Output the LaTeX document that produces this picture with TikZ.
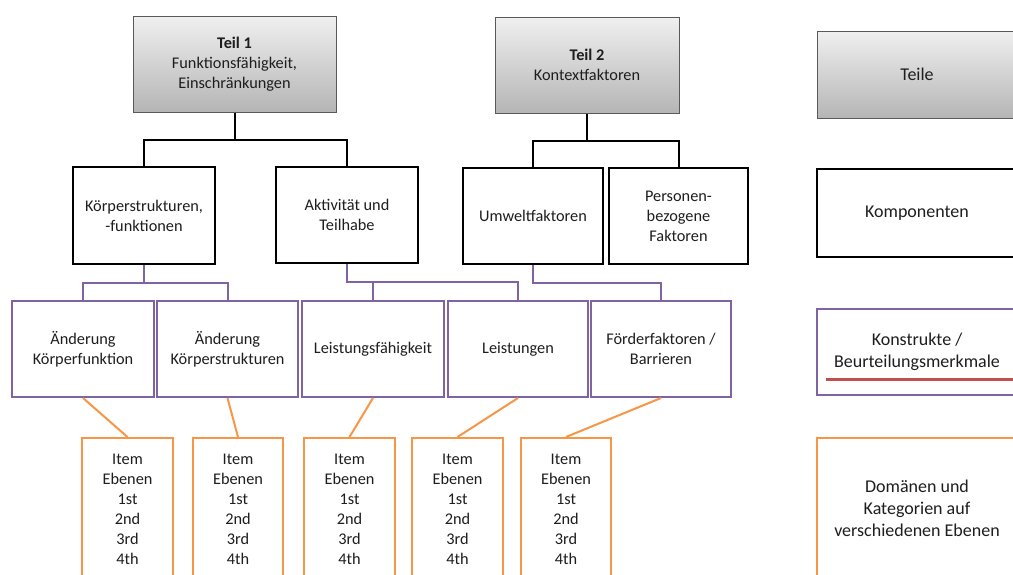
\documentclass[tikz,border=0pt]{standalone}
\usepackage{fontspec}
\setmainfont{Carlito}
\usetikzlibrary{calc}
\definecolor{txt}{HTML}{1E1E1E}
\definecolor{purp}{HTML}{8064A2}
\definecolor{oran}{HTML}{F79646}
\definecolor{redl}{HTML}{C0504D}
\definecolor{frame}{HTML}{595959}
\tikzset{
  base/.style={rectangle, align=center, text=txt, inner sep=0pt,
    font=\fontsize{16.3}{20}\selectfont},
  partbox/.style={base, draw=frame, line width=1pt,
    top color=gray!12, bottom color=gray!58},
  compbox/.style={base, draw=black, line width=2pt, fill=white},
  constbox/.style={base, draw=purp, line width=2pt, fill=white},
  itembox/.style={base, draw=oran, line width=2pt, fill=white},
  legend/.style={font=\fontsize{18}{22}\selectfont},
  blk/.style={draw=black, line width=2pt},
  pur/.style={draw=purp, line width=2pt},
  org/.style={draw=oran, line width=2pt},
}
\begin{document}
\begin{tikzpicture}[x=1pt, y=-1pt]
\useasboundingbox (0,0) rectangle (1013,574);
\fill[white] (0,0) rectangle (1013,574);

% parts
\node[partbox, minimum width=203pt, minimum height=96pt] (t1) at (234.5,64)
  {\textbf{Teil 1}\\Funktionsfähigkeit,\\Einschränkungen};
\node[partbox, minimum width=184pt, minimum height=96pt] (t2) at (587,65)
  {\textbf{Teil 2}\\Kontextfaktoren};

% components
\node[compbox, minimum width=142pt, minimum height=97pt] (kb) at (144,215.5)
  {Körperstrukturen,\\-funktionen};
\node[compbox, minimum width=142pt, minimum height=96pt] (ak) at (347,215)
  {Aktivität und\\Teilhabe};
\node[compbox, minimum width=140pt, minimum height=96pt] (uw) at (533,216)
  {Umweltfaktoren};
\node[compbox, minimum width=139pt, minimum height=96pt] (pf) at (678.5,216)
  {Personen-\\bezogene\\Faktoren};

% constructs
\node[constbox, minimum width=142pt, minimum height=96pt] (p1) at (83,349)
  {Änderung\\Körperfunktion};
\node[constbox, minimum width=141pt, minimum height=96pt] (p2) at (227.5,349)
  {Änderung\\Körperstrukturen};
\node[constbox, minimum width=142pt, minimum height=96pt] (p3) at (373,349)
  {Leistungsfähigkeit};
\node[constbox, minimum width=140pt, minimum height=96pt] (p4) at (518,349)
  {Leistungen};
\node[constbox, minimum width=140pt, minimum height=96pt] (p5) at (661,349)
  {Förderfaktoren /\\Barrieren};

% item levels
\foreach \n/\cx/\w in {o1/127.5/91, o2/238/90, o3/349.5/91, o4/457.5/91, o5/566/90}
  \node[itembox, minimum width=\w pt, minimum height=143pt] (\n) at (\cx,509.5)
    {Item\\Ebenen\\1st\\2nd\\3rd\\4th};

% connectors: parts -> components
\coordinate (t1bus) at ([yshift=-27pt]t1.south);
\draw[blk] (t1.south) -- (t1bus);
\draw[blk] (kb.north) |- (t1bus) -| (ak.north);
\coordinate (t2bus) at ([yshift=-27pt]t2.south);
\draw[blk] (t2.south) -- (t2bus);
\draw[blk] (uw.north) |- (t2bus) -| (pf.north);

% connectors: components -> constructs
\coordinate (kbbus) at ([yshift=-18pt]kb.south);
\draw[pur] (kb.south) -- (kbbus);
\draw[pur] (p1.north) |- (kbbus) -| (p2.north);
\coordinate (akbus) at ([yshift=-18pt]ak.south);
\draw[pur] (ak.south) -- (akbus) -| (p4.north);
\draw[pur] (p3.north) -- (p3.north |- akbus);
\coordinate (uwbus) at ([yshift=-18pt]uw.south);
\draw[pur] (uw.south) -- (uwbus) -| (p5.north);

% connectors: constructs -> item levels
\draw[org] (p1.south) -- (o1.north);
\draw[org] (p2.south) -- (o2.north);
\draw[org] (p3.south) -- (o3.north);
\draw[org] (p4.south) -- (o4.north);
\draw[org] (p5.south) -- (o5.north);

% legend (boxes run past the right page edge)
\node[partbox, legend, minimum width=200pt, minimum height=87pt] (lg1) at (917,74.5)
  {Teile};
\node[compbox, legend, line width=2.6pt, minimum width=200pt, minimum height=88pt] (lg2) at (917,213)
  {Komponenten};
\node[constbox, legend, minimum width=200pt, minimum height=86pt] (lg3) at (917,352)
  {Konstrukte /\\Beurteilungsmerkmale};
\draw[redl, line width=3pt] ([xshift=10pt,yshift=17pt]lg3.south west) -- ([xshift=10pt,yshift=17pt]lg3.south east);
\node[itembox, legend, minimum width=200pt, minimum height=141pt] (lg4) at (917,508.5)
  {Domänen und\\Kategorien auf\\verschiedenen Ebenen};
\end{tikzpicture}
\end{document}
